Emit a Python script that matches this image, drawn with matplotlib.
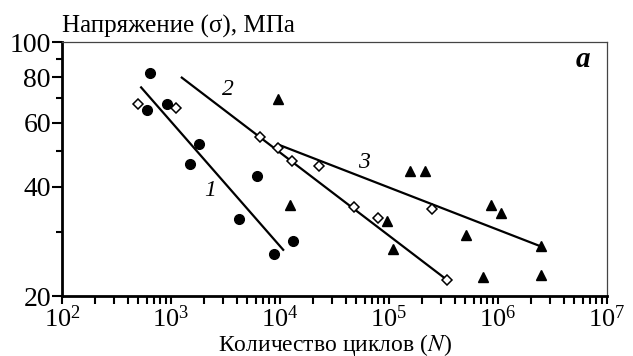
import numpy as np
import matplotlib
matplotlib.use('Agg')
import matplotlib.pyplot as plt
from matplotlib.ticker import LogLocator, FixedLocator, NullFormatter, LogFormatterSciNotation

plt.rcParams['font.family'] = ['Liberation Serif', 'DejaVu Serif']
plt.rcParams['mathtext.fontset'] = 'stix'

# series 1 (filled circles)
n1 = [638, 597, 916, 1807, 1479, 6140, 4250, 8890, 13300]
s1 = [82.2, 65.0, 67.7, 52.5, 46.3, 42.7, 32.5, 26.1, 28.3]
# series 2 (open diamonds)
n2 = [502, 1110, 6520, 9510, 13000, 22600, 47700, 79800, 246000, 337000]
s2 = [67.4, 65.9, 54.9, 51.1, 46.9, 45.6, 35.1, 32.8, 34.6, 22.2]
# series 3 (filled triangles)
n3 = [9500, 12300, 157000, 212000, 95700, 109000, 508000, 867000, 1.07e6, 2.46e6, 726000, 2.46e6]
s3 = [69.6, 35.7, 44.1, 44.1, 32.2, 26.9, 29.4, 35.5, 33.9, 27.5, 22.5, 22.8]

# fitted lines, end points
fit1_n = [532, 10700]
fit1_s = [75.0, 26.8]
fit2_n = [1256, 337000]
fit2_s = [79.8, 22.2]
fit3_n = [9500, 2.46e6]
fit3_s = [52.3, 27.4]

# curve numbers
lab_text = ['1', '2', '3']
lab_n = [2300, 3300, 58700]
lab_s = [39.1, 74.0, 46.6]

y_major = [20, 40, 60, 80, 100]
y_minor = [30, 50, 70, 90]

fig = plt.figure(figsize=(6.33, 3.56), dpi=100)
ax = fig.add_axes([62 / 633, 60 / 356, 545 / 633, 254 / 356])

for fn, fs in [(fit1_n, fit1_s), (fit2_n, fit2_s), (fit3_n, fit3_s)]:
    ax.plot(fn, fs, color='black', lw=1.6, zorder=2)

ax.plot(n1, s1, 'o', color='black', ms=7, zorder=3)
ax.plot(n2, s2, 'D', mfc='white', mec='black', mew=1.1, ms=5.5, zorder=3)
ax.plot(n3, s3, '^', color='black', ms=7.5, zorder=3)

for t, x, y in zip(lab_text, lab_n, lab_s):
    ax.text(x, y, t, fontsize=17, style='italic', ha='center', va='center')

ax.text(0.956, 0.93, 'a', transform=ax.transAxes, fontsize=21, fontweight='bold',
        style='italic', ha='center', va='center')

ax.set_xscale('log')
ax.set_yscale('log')
ax.set_xlim(1e2, 1e7)
ax.set_ylim(20, 100)

ax.xaxis.set_major_locator(LogLocator(base=10))
ax.xaxis.set_major_formatter(LogFormatterSciNotation())
ax.xaxis.set_minor_locator(LogLocator(base=10, subs=np.arange(2, 10)))
ax.xaxis.set_minor_formatter(NullFormatter())
ax.yaxis.set_major_locator(FixedLocator(y_major))
ax.yaxis.set_major_formatter(plt.FixedFormatter([str(v) for v in y_major]))
ax.yaxis.set_minor_locator(FixedLocator(y_minor))
ax.yaxis.set_minor_formatter(NullFormatter())

ax.tick_params(axis='x', which='both', direction='out', length=6, width=1.5, labelsize=19, pad=0.5)
ax.tick_params(axis='y', which='major', direction='out', length=7, width=1.5, labelsize=20, pad=1)
ax.tick_params(axis='y', which='minor', direction='out', length=4.5, width=1.5)

for side in ['left', 'bottom']:
    ax.spines[side].set_linewidth(2)
for side in ['top', 'right']:
    ax.spines[side].set_linewidth(0.9)
    ax.spines[side].set_color('#444444')

ax.set_xlabel('Количество циклов ($N$)', fontsize=17, labelpad=0)
ax.text(0.0, 1.015, 'Напряжение (σ), МПа', transform=ax.transAxes, fontsize=18,
        ha='left', va='bottom')

fig.savefig('out.png', dpi=100)
